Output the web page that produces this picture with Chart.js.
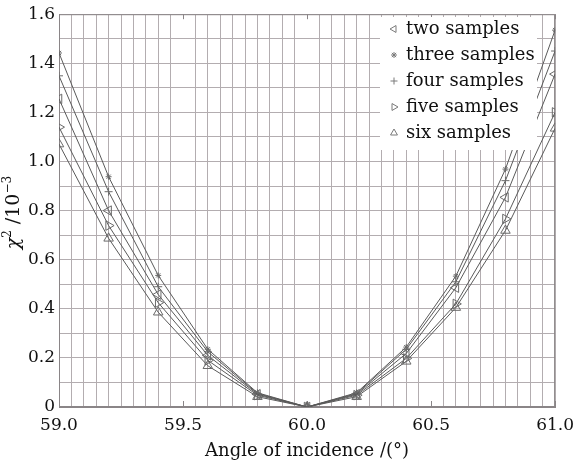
<!DOCTYPE html>
<html>
<head>
<meta charset="utf-8">
<script src="https://cdn.jsdelivr.net/npm/chart.js@4"></script>
<style>
  html, body { margin: 0; padding: 0; background: #ffffff; }
  #wrap { width: 582px; height: 463px; }
</style>
</head>
<body>
<div id="wrap"><canvas id="c" width="582" height="463"></canvas></div>
<script>
// ---- data ----
const angles = [59.0, 59.2, 59.4, 59.6, 59.8, 60.0, 60.2, 60.4, 60.6, 60.8, 61.0];
const twoSamples   = [1.255, 0.800, 0.458, 0.210, 0.052, 0, 0.052, 0.218, 0.486, 0.854, 1.356];
const threeSamples = [1.442, 0.938, 0.536, 0.235, 0.058, 0, 0.058, 0.244, 0.533, 0.969, 1.535];
const fourSamples  = [1.349, 0.877, 0.490, 0.225, 0.055, 0, 0.055, 0.235, 0.510, 0.922, 1.450];
const fiveSamples  = [1.140, 0.739, 0.425, 0.190, 0.048, 0, 0.048, 0.198, 0.420, 0.766, 1.200];
const sixSamples   = [1.071, 0.687, 0.386, 0.168, 0.042, 0, 0.042, 0.186, 0.405, 0.719, 1.135];
const seriesNames  = ['two samples', 'three samples', 'four samples', 'five samples', 'six samples'];
const xTickLabels  = ['59.0', '59.5', '60.0', '60.5', '61.0'];
const yTickLabels  = ['0', '0.2', '0.4', '0.6', '0.8', '1.0', '1.2', '1.4', '1.6'];
const xTitle = 'Angle of incidence /(°)';
const yTitleParts = [
  { text: 'χ', italic: true, sup: false },
  { text: '2', italic: false, sup: true },
  { text: ' /10', italic: false, sup: false },
  { text: '−3', italic: false, sup: true }
];

const FONT = "'DejaVu Serif', 'Liberation Serif', serif";
const LINE = '#5a5a5a';
const GRID = '#b3adb0';
const styles = [
  { pointStyle: 'triangle', rotation: 270, radius: 5.5, legendRadius: 4 },
  { pointStyle: 'star', rotation: 0, radius: 3, legendRadius: 3 },
  { pointStyle: 'cross', rotation: 0, radius: 4, legendRadius: 3.5 },
  { pointStyle: 'triangle', rotation: 90, radius: 5.5, legendRadius: 4 },
  { pointStyle: 'triangle', rotation: 0, radius: 5.5, legendRadius: 4 }
];
const allSeries = [twoSamples, threeSamples, fourSamples, fiveSamples, sixSamples];

const datasets = allSeries.map((vals, i) => ({
  label: seriesNames[i],
  data: angles.map((a, k) => ({ x: a, y: vals[k] })),
  borderColor: LINE,
  borderWidth: 1,
  backgroundColor: 'rgba(0,0,0,0)',
  pointStyle: styles[i].pointStyle,
  rotation: styles[i].rotation,
  pointRadius: styles[i].radius,
  pointBorderColor: '#6a6a6a',
  pointBackgroundColor: 'rgba(0,0,0,0)',
  pointBorderWidth: 1,
  tension: 0,
  fill: false
}));

function isMajor(v) {
  return xTickLabels.some(t => Math.abs(parseFloat(t) - v) < 1e-6);
}

const framePlugin = {
  id: 'frame',
  beforeDatasetsDraw(chart) {
    const { ctx, chartArea: a, scales } = chart;
    ctx.save();
    ctx.strokeStyle = '#8a8587';
    ctx.lineWidth = 1;
    ctx.strokeRect(a.left + 0.5, a.top + 0.5, a.right - a.left - 1, a.bottom - a.top - 1);
    xTickLabels.forEach(t => {
      const x = Math.round(scales.x.getPixelForValue(parseFloat(t))) + 0.5;
      ctx.beginPath();
      ctx.moveTo(x, a.bottom); ctx.lineTo(x, a.bottom - 6);
      ctx.moveTo(x, a.top); ctx.lineTo(x, a.top + 5);
      ctx.stroke();
    });
    ctx.restore();
  },
  afterDatasetsDraw(chart) {
    const { ctx } = chart;
    ctx.save();
    ctx.fillStyle = '#ffffff';
    ctx.fillRect(380, 17, 157, 133);
    ctx.font = "18px " + FONT;
    ctx.textBaseline = 'middle';
    ctx.textAlign = 'left';
    seriesNames.forEach((name, i) => {
      const y = 29 + i * 26;
      ctx.strokeStyle = '#7a7a7a';
      ctx.fillStyle = 'rgba(0,0,0,0)';
      ctx.lineWidth = 1;
      Chart.helpers.drawPoint(ctx, {
        pointStyle: styles[i].pointStyle,
        rotation: styles[i].rotation,
        radius: styles[i].legendRadius,
        borderWidth: 1
      }, 394, y);
      ctx.fillStyle = '#111111';
      ctx.fillText(name, 406, y);
    });
    ctx.restore();
  },
  afterDraw(chart) {
    const { ctx, chartArea: a } = chart;
    ctx.save();
    const big = 19, small = 12;
    const fontOf = p => (p.italic ? 'italic ' : '') + (p.sup ? small : big) + 'px ' + FONT;
    let total = 0;
    yTitleParts.forEach(p => { ctx.font = fontOf(p); total += ctx.measureText(p.text).width; });
    ctx.translate(13, (a.top + a.bottom) / 2 + 2);
    ctx.rotate(-Math.PI / 2);
    ctx.fillStyle = '#111';
    ctx.textBaseline = 'alphabetic';
    ctx.textAlign = 'left';
    let x = -total / 2;
    const base = 6;
    yTitleParts.forEach(p => {
      ctx.font = fontOf(p);
      ctx.fillText(p.text, x, p.sup ? base - 8 : base);
      x += ctx.measureText(p.text).width;
    });
    ctx.restore();
  }
};

new Chart(document.getElementById('c'), {
  type: 'line',
  data: { datasets },
  plugins: [framePlugin],
  options: {
    responsive: false,
    animation: false,
    devicePixelRatio: 1,
    layout: { padding: { top: 13, right: 25, left: 0, bottom: 0 } },
    plugins: { legend: { display: false }, tooltip: { enabled: false } },
    scales: {
      x: {
        type: 'linear',
        min: 59, max: 61,
        afterFit(s) { s.height = 56; },
        afterBuildTicks(s) {
          const t = [];
          for (let i = 0; i <= 40; i++) t.push({ value: 59 + i * 0.05 });
          s.ticks = t;
        },
        grid: {
          drawTicks: false,
          color: ctx => {
            const v = ctx.tick ? ctx.tick.value : 0;
            if (isMajor(v) && v > 59.01 && v < 60.99) return 'rgba(0,0,0,0)';
            return GRID;
          },
          lineWidth: 1
        },
        border: { color: '#8a8587' },
        ticks: {
          autoSkip: false,
          maxRotation: 0,
          padding: 8,
          color: '#111',
          font: { family: FONT, size: 17 },
          callback: (v) => {
            const idx = xTickLabels.findIndex(t => Math.abs(parseFloat(t) - v) < 1e-6);
            return idx >= 0 ? xTickLabels[idx] : '';
          }
        },
        title: {
          display: true,
          text: xTitle,
          color: '#111',
          font: { family: FONT, size: 18 },
          padding: { top: 0, bottom: 1 }
        }
      },
      y: {
        min: 0, max: 1.6,
        afterFit(s) { s.width = 59; },
        afterBuildTicks(s) {
          const t = [];
          for (let i = 0; i <= 16; i++) t.push({ value: i * 0.1 });
          s.ticks = t;
        },
        grid: { drawTicks: false, color: GRID, lineWidth: 1 },
        border: { color: '#8a8587' },
        ticks: {
          autoSkip: false,
          padding: 4,
          color: '#111',
          font: { family: FONT, size: 17 },
          callback: (v) => {
            const idx = yTickLabels.findIndex(t => Math.abs(parseFloat(t) - v) < 1e-6);
            return idx >= 0 ? yTickLabels[idx] : '';
          }
        },
        title: { display: false }
      }
    }
  }
});
</script>
</body>
</html>
